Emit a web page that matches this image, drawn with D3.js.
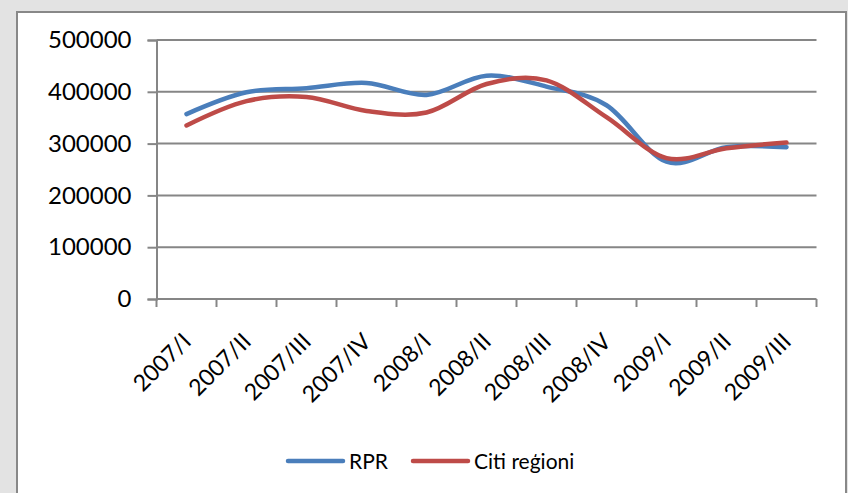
<!DOCTYPE html>
<html>
<head>
<meta charset="utf-8">
<script src="https://cdn.jsdelivr.net/npm/d3@7"></script>
<style>
  body { margin: 0; background: #e3e3e3; }
  svg { display: block; font-family: Lato, "Open Sans", sans-serif; }
</style>
</head>
<body>
<div id="chart"></div>
<script>
// Chart size
const width = 848;
const height = 493;

// Data
const categories = ["2007/I", "2007/II", "2007/III", "2007/IV", "2008/I", "2008/II",
                    "2008/III", "2008/IV", "2009/I", "2009/II", "2009/III"];
const rprValues = [357000, 399000, 407000, 417000, 394000, 431000, 410000, 374000, 265000, 293000, 293000];
const citiValues = [335000, 382000, 390000, 363000, 360000, 415000, 422000, 351000, 272000, 291000, 302000];
const yTicks = [0, 100000, 200000, 300000, 400000, 500000];
const seriesNames = ["RPR", "Citi reģioni"];
const seriesColors = ["#4a7ebb", "#be4b48"];

const svg = d3.select("#chart")
    .append("svg")
    .attr("width", width)
    .attr("height", height);

// White panel with gray border
svg.append("rect")
    .attr("x", 17).attr("y", 12)
    .attr("width", 829).attr("height", 520)
    .attr("fill", "#fff")
    .attr("stroke", "#888")
    .attr("stroke-width", 2);

// Scales
const x = d3.scaleBand()
    .domain(categories)
    .range([156.5, 816.5]);

const y = d3.scaleLinear()
    .domain([0, 500000])
    .range([299, 40]);

const axisColor = "#868686";

// Gridlines
svg.append("g")
    .selectAll("line")
    .data(yTicks.slice(1))
    .enter()
    .append("line")
    .attr("x1", 156.5).attr("x2", 816.5)
    .attr("y1", d => y(d)).attr("y2", d => y(d))
    .attr("stroke", axisColor)
    .attr("stroke-width", 2);

// Y axis
const yAxis = svg.append("g")
    .attr("transform", "translate(156.5,0)")
    .call(d3.axisLeft(y).tickValues(yTicks).tickSize(9).tickPadding(16).tickFormat(d3.format("d")));
yAxis.select(".domain").attr("stroke", axisColor).attr("stroke-width", 2);
yAxis.selectAll(".tick line").attr("stroke", axisColor).attr("stroke-width", 2);
yAxis.selectAll("text")
    .attr("font-size", 24)
    .attr("font-family", "Lato")
    .attr("fill", "#000");

// X axis (ticks at category boundaries)
const xg = svg.append("g");
xg.append("line")
    .attr("x1", 156.5).attr("x2", 816.5)
    .attr("y1", y(0)).attr("y2", y(0))
    .attr("stroke", axisColor).attr("stroke-width", 2);
xg.selectAll("line.tick")
    .data(categories.concat(["end"]))
    .enter()
    .append("line")
    .attr("class", "tick")
    .attr("x1", (d, i) => 156.5 + i * x.step())
    .attr("x2", (d, i) => 156.5 + i * x.step())
    .attr("y1", y(0)).attr("y2", y(0) + 8)
    .attr("stroke", axisColor).attr("stroke-width", 2);

xg.selectAll("text")
    .data(categories)
    .enter()
    .append("text")
    .attr("transform", d => `translate(${x(d) + x.bandwidth() / 2 + 6},${y(0) + 44}) rotate(-45)`)
    .attr("text-anchor", "end")
    .attr("font-size", 23)
    .attr("fill", "#000")
    .text(d => d);

// Lines
const line = d3.line()
    .x((d, i) => x(categories[i]) + x.bandwidth() / 2)
    .y(d => y(d))
    .curve(d3.curveCardinal.tension(0));

[rprValues, citiValues].forEach((vals, k) => {
    svg.append("path")
        .datum(vals)
        .attr("fill", "none")
        .attr("stroke", seriesColors[k])
        .attr("stroke-width", 4.5)
        .attr("stroke-linecap", "round")
        .attr("d", line);
});

// Legend
const legendX = [288, 413];
const legend = svg.append("g");
seriesNames.forEach((name, k) => {
    legend.append("line")
        .attr("x1", legendX[k]).attr("x2", legendX[k] + 55)
        .attr("y1", 461).attr("y2", 461)
        .attr("stroke", seriesColors[k])
        .attr("stroke-width", 4.5)
        .attr("stroke-linecap", "round");
    legend.append("text")
        .attr("x", legendX[k] + 61)
        .attr("y", 469)
        .attr("font-size", 21)
        .attr("fill", "#000")
        .text(name);
});
</script>
</body>
</html>
